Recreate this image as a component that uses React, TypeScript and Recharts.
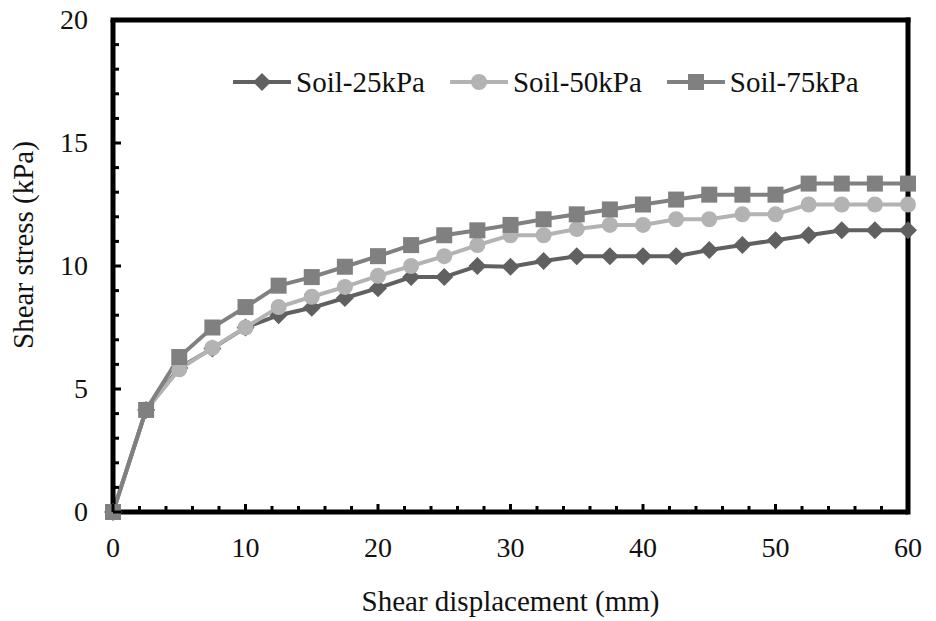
import React from "react";
import {
  LineChart,
  Line,
  XAxis,
  YAxis,
  Legend,
  ReferenceLine,
} from "recharts";

const displacement = [
  0, 2.5, 5, 7.5, 10, 12.5, 15, 17.5, 20, 22.5, 25, 27.5, 30, 32.5, 35, 37.5, 40,
  42.5, 45, 47.5, 50, 52.5, 55, 57.5, 60,
];
const soil25 = [
  0, 4.15, 5.85, 6.65, 7.5, 8.0, 8.3, 8.7, 9.1, 9.55, 9.55, 10.0, 9.97, 10.2, 10.4,
  10.4, 10.4, 10.4, 10.65, 10.85, 11.05, 11.25, 11.45, 11.45, 11.45,
];
const soil50 = [
  0, 4.15, 5.8, 6.67, 7.5, 8.33, 8.75, 9.15, 9.6, 10.0, 10.4, 10.85, 11.25, 11.25,
  11.5, 11.67, 11.67, 11.9, 11.9, 12.1, 12.1, 12.5, 12.5, 12.5, 12.5,
];
const soil75 = [
  0, 4.15, 6.3, 7.5, 8.33, 9.2, 9.55, 9.97, 10.4, 10.85, 11.25, 11.45, 11.67, 11.9,
  12.1, 12.3, 12.5, 12.7, 12.9, 12.9, 12.9, 13.35, 13.35, 13.35, 13.35,
];
const xTicks = [
  0, 2, 4, 6, 8, 10, 12, 14, 16, 18, 20, 22, 24, 26, 28, 30, 32, 34, 36, 38, 40, 42,
  44, 46, 48, 50, 52, 54, 56, 58, 60,
];
const yTicks = [
  0, 1, 2, 3, 4, 5, 6, 7, 8, 9, 10, 11, 12, 13, 14, 15, 16, 17, 18, 19, 20,
];

const FONT = "'Liberation Serif', 'Times New Roman', serif";
const TEXT = "#111";

type Shape = "diamond" | "circle" | "square";

const SERIES: { key: string; name: string; color: string; shape: Shape }[] = [
  { key: "s25", name: "Soil-25kPa", color: "#606060", shape: "diamond" },
  { key: "s50", name: "Soil-50kPa", color: "#b3b3b3", shape: "circle" },
  { key: "s75", name: "Soil-75kPa", color: "#808080", shape: "square" },
];

const chartData = displacement.map((d, i) => ({
  d,
  s25: soil25[i],
  s50: soil50[i],
  s75: soil75[i],
}));

function marker(shape: Shape, cx: number, cy: number, color: string, key?: string) {
  if (shape === "diamond") {
    const r = 9;
    return (
      <polygon
        key={key}
        points={`${cx},${cy - r} ${cx + r},${cy} ${cx},${cy + r} ${cx - r},${cy}`}
        fill={color}
      />
    );
  }
  if (shape === "circle") {
    return <circle key={key} cx={cx} cy={cy} r={8} fill={color} />;
  }
  return <rect key={key} x={cx - 8} y={cy - 8} width={16} height={16} fill={color} />;
}

function makeDot(shape: Shape, color: string) {
  return (props: any) => {
    const { cx, cy, index } = props;
    if (cx == null || cy == null) return <g key={`e-${index}`} />;
    return marker(shape, cx, cy, color, `${shape}-${index}`);
  };
}

function XTick(props: any) {
  const { x, y, payload } = props;
  const major = payload.value % 10 === 0;
  return (
    <g>
      <line x1={x} x2={x} y1={y} y2={y - (major ? 8 : 6)} stroke="#000" strokeWidth={3} />
      {major && (
        <text x={x} y={y + 45} textAnchor="middle" fontFamily={FONT} fontSize={28} fill={TEXT}>
          {payload.value}
        </text>
      )}
    </g>
  );
}

function YTick(props: any) {
  const { x, y, payload } = props;
  const major = payload.value % 5 === 0;
  return (
    <g>
      <line x1={x} x2={x + (major ? 8 : 6)} y1={y} y2={y} stroke="#000" strokeWidth={3} />
      {major && (
        <text x={x - 25} y={y + 9} textAnchor="end" fontFamily={FONT} fontSize={28} fill={TEXT}>
          {payload.value}
        </text>
      )}
    </g>
  );
}

function LegendContent() {
  return (
    <div style={{ display: "flex", alignItems: "center" }}>
      {SERIES.map((s) => (
        <div key={s.key} style={{ display: "flex", alignItems: "center", marginRight: 25 }}>
          <svg width={58} height={20} style={{ display: "block" }}>
            <line x1={1} x2={57} y1={10} y2={10} stroke={s.color} strokeWidth={4} strokeLinecap="round" />
            {marker(s.shape, 29, 10, s.color)}
          </svg>
          <span
            style={{
              fontFamily: FONT,
              fontSize: 29,
              lineHeight: "32px",
              color: TEXT,
              marginLeft: 5,
              whiteSpace: "nowrap",
            }}
          >
            {s.name}
          </span>
        </div>
      ))}
    </div>
  );
}

export default function App() {
  return (
    <div style={{ position: "absolute", left: 0, top: 0, background: "#fff" }}>
      <LineChart
        width={936}
        height={621}
        data={chartData}
        margin={{ top: 20, right: 28, left: 0, bottom: 0 }}
      >
        <XAxis
          dataKey="d"
          type="number"
          domain={[0, 60]}
          ticks={xTicks}
          interval={0}
          height={109}
          tickSize={0}
          tickMargin={0}
          tick={<XTick />}
          axisLine={{ stroke: "#000", strokeWidth: 5 }}
          label={(p: any) => {
            const vb = p.viewBox;
            return (
              <text
                x={vb.x + vb.width / 2}
                y={vb.y + 99}
                textAnchor="middle"
                fontFamily={FONT}
                fontSize={29}
                fill={TEXT}
              >
                Shear displacement (mm)
              </text>
            );
          }}
        />
        <YAxis
          type="number"
          domain={[0, 20]}
          ticks={yTicks}
          interval={0}
          width={113}
          tickSize={0}
          tickMargin={0}
          tick={<YTick />}
          axisLine={{ stroke: "#000", strokeWidth: 5 }}
          label={(p: any) => {
            const vb = p.viewBox;
            const cx = vb.x + 33;
            const cy = vb.y + vb.height / 2 - 21;
            return (
              <text
                x={cx}
                y={cy}
                transform={`rotate(-90, ${cx}, ${cy})`}
                textAnchor="middle"
                fontFamily={FONT}
                fontSize={29}
                fill={TEXT}
              >
                Shear stress (kPa)
              </text>
            );
          }}
        />
        <Legend
          layout="horizontal"
          verticalAlign="middle"
          align="center"
          content={<LegendContent />}
          wrapperStyle={{ top: 66, left: 233, width: 700, height: 32 }}
        />
        {SERIES.map((s) => (
          <Line
            key={s.key}
            type="linear"
            dataKey={s.key}
            name={s.name}
            stroke={s.color}
            strokeWidth={4}
            dot={makeDot(s.shape, s.color)}
            activeDot={false}
            isAnimationActive={false}
          />
        ))}
        <ReferenceLine y={20} stroke="#000" strokeWidth={5} strokeLinecap="square" />
        <ReferenceLine x={60} stroke="#000" strokeWidth={5} strokeLinecap="square" />
      </LineChart>
    </div>
  );
}
